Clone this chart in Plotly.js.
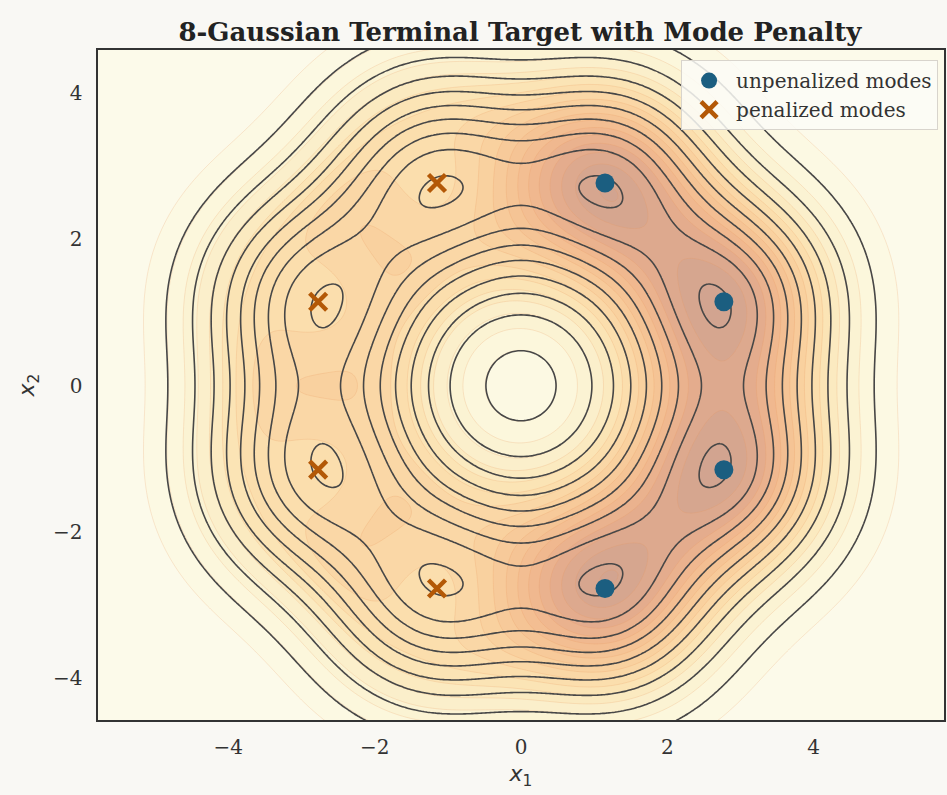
<!DOCTYPE html>
<html><head><meta charset="utf-8">
<script src="https://cdn.plot.ly/plotly-3.0.1.min.js"></script>
<style>html,body{margin:0;padding:0;background:#f9f8f4;}</style>
</head><body><div id="chart" style="width:947px;height:795px;"></div>
<script>
// Mode centres (8-Gaussian ring, radius 3)
const unpenX = [2.772, 1.148, 2.772, 1.148];
const unpenY = [1.148, 2.772, -1.148, -2.772];
const penX = [-1.148, -2.772, -2.772, -1.148];
const penY = [2.772, 1.148, -1.148, -2.772];
const sigma = 1.0;
const penaltyStrength = 0.85;
const penaltyWidth = 0.8;
// contour levels
const lineStart = 0.0025, lineEnd = 0.0225, lineStep = 0.0025;
const fillStart = 0.0, fillEnd = 0.0235, fillStep = 0.00125;
// fill colours (YlOrBr-like, blended on cream)
const fillStops = [0, 0.125, 0.25, 0.375, 0.5, 0.625, 0.75, 0.86, 1];
const fillColors = ['rgb(252,251,238)','rgb(252,248,222)','rgb(251,239,203)','rgb(251,227,178)',
  'rgb(250,212,162)','rgb(246,197,150)','rgb(240,184,143)','rgb(228,172,141)','rgb(210,164,144)'];
const tickVals = [-4, -2, 0, 2, 4];

const allX = unpenX.concat(penX), allY = unpenY.concat(penY);
const gx = [], gy = [];
for (let i = 0; i <= 300; i++) { gx.push(-6 + i * 0.04); gy.push(-6 + i * 0.04); }
const norm = 1 / (allX.length * 2 * Math.PI * sigma * sigma);
const zLine = [], zFill = [];
for (let j = 0; j < gy.length; j++) {
  const rl = [], rf = [];
  for (let i = 0; i < gx.length; i++) {
    let s = 0;
    for (let k = 0; k < allX.length; k++) {
      const dx = gx[i] - allX[k], dy = gy[j] - allY[k];
      s += Math.exp(-(dx*dx + dy*dy) / (2 * sigma * sigma));
    }
    const p = s * norm;
    let pen = 0;
    for (let k = 0; k < penX.length; k++) {
      const dx = gx[i] - penX[k], dy = gy[j] - penY[k];
      pen += Math.exp(-(dx*dx + dy*dy) / (2 * penaltyWidth * penaltyWidth));
    }
    rl.push(p);
    rf.push(p * Math.exp(-penaltyStrength * pen));
  }
  zLine.push(rl); zFill.push(rf);
}

const cs = fillStops.map((s, i) => [s, fillColors[i]]);
const serif = 'DejaVu Serif, serif';
const traces = [
  {type:'contour', x:gx, y:gy, z:zFill, colorscale:cs, zmin:fillStart, zmax:fillEnd,
   autocontour:false, contours:{start:fillStart, end:fillEnd, size:fillStep, coloring:'fill'},
   line:{width:0.6, color:'rgba(232,150,90,0.35)', smoothing:1}, showscale:false, hoverinfo:'skip', showlegend:false},
  {type:'contour', x:gx, y:gy, z:zLine, autocontour:false,
   contours:{start:lineStart, end:lineEnd, size:lineStep, coloring:'none'},
   line:{width:1.6, color:'#474747', smoothing:1}, showscale:false, hoverinfo:'skip', showlegend:false},
  {type:'scatter', mode:'markers', x:unpenX, y:unpenY, name:'unpenalized modes',
   marker:{symbol:'circle', size:19, color:'#1b5e80'}},
  {type:'scatter', mode:'markers', x:penX, y:penY, name:'penalized modes',
   marker:{symbol:'x-thin', size:17, color:'#b35806', line:{width:4.5, color:'#b35806'}}}
];
const axisCommon = {showline:true, mirror:true, linecolor:'#333', linewidth:1.6, ticks:'',
  showgrid:true, gridcolor:'rgba(120,110,80,0.12)', gridwidth:1, zeroline:false,
  tickfont:{family:serif, size:20, color:'#333'}, tickvals:tickVals, layer:'above traces'};
const layout = {
  width:947, height:795, paper_bgcolor:'#f9f8f4', plot_bgcolor:'#fbf9ee',
  margin:{l:98, r:3, t:50, b:75},
  title:{text:'<b>8-Gaussian Terminal Target with Mode Penalty</b>', x:0.549, xanchor:'center', y:0.96, yanchor:'middle',
    font:{family:serif, size:26, color:'#222'}},
  xaxis:Object.assign({}, axisCommon, {range:[-5.78, 5.78], ticklabelstandoff:8,
    title:{text:'<i>x</i><sub>1</sub>', font:{family:'DejaVu Sans, sans-serif', size:22, color:'#333'}, standoff:8}}),
  yaxis:Object.assign({}, axisCommon, {range:[-4.57, 4.59], ticklabelstandoff:10,
    title:{text:'<i>x</i><sub>2</sub>', font:{family:'DejaVu Sans, sans-serif', size:22, color:'#333'}, standoff:12}}),
  legend:{x:0.993, y:0.985, xanchor:'right', yanchor:'top', bgcolor:'rgba(252,251,247,0.85)',
    bordercolor:'#d8d4cc', borderwidth:1, font:{family:serif, size:20, color:'#333'}, itemwidth:44},
  showlegend:true
};
Plotly.newPlot('chart', traces, layout, {displayModeBar:false, staticPlot:true});
</script></body></html>
